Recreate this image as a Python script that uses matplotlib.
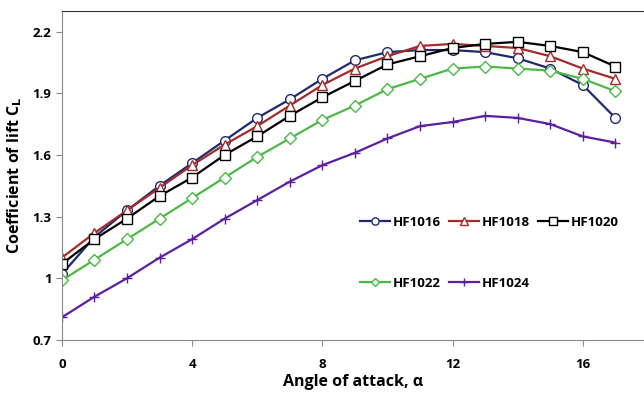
import matplotlib.pyplot as plt

# Angle of attack (deg)
alpha = list(range(18))

# Lift coefficient per airfoil
cl_hf1016 = [1.02, 1.20, 1.33, 1.45, 1.56, 1.67, 1.78, 1.87, 1.97, 2.06,
             2.10, 2.11, 2.11, 2.10, 2.07, 2.02, 1.94, 1.78]
cl_hf1018 = [1.10, 1.22, 1.33, 1.44, 1.55, 1.65, 1.74, 1.84, 1.94, 2.02,
             2.08, 2.13, 2.14, 2.13, 2.12, 2.08, 2.02, 1.97]
cl_hf1020 = [1.07, 1.19, 1.29, 1.40, 1.49, 1.60, 1.69, 1.79, 1.88, 1.96,
             2.04, 2.08, 2.12, 2.14, 2.15, 2.13, 2.10, 2.03]
cl_hf1022 = [0.99, 1.09, 1.19, 1.29, 1.39, 1.49, 1.59, 1.68, 1.77, 1.84,
             1.92, 1.97, 2.02, 2.03, 2.02, 2.01, 1.97, 1.91]
cl_hf1024 = [0.81, 0.91, 1.00, 1.10, 1.19, 1.29, 1.38, 1.47, 1.55, 1.61,
             1.68, 1.74, 1.76, 1.79, 1.78, 1.75, 1.69, 1.66]

series = [
    ("HF1016", cl_hf1016, "#1f2a6e", "o"),
    ("HF1018", cl_hf1018, "#a52a2a", "^"),
    ("HF1020", cl_hf1020, "#000000", "s"),
    ("HF1022", cl_hf1022, "#4cb848", "D"),
    ("HF1024", cl_hf1024, "#5b1fa0", "+"),
]

plt.rcParams['font.family'] = ['Open Sans', 'DejaVu Sans']

fig = plt.figure(figsize=(6.44, 3.93), dpi=100)
ax = fig.add_axes([0.096, 0.135, 0.904, 0.837])

handles = {}
for name, vals, color, marker in series:
    msize = 7 if marker != "D" else 6
    line, = ax.plot(alpha, vals, color=color, marker=marker, markersize=msize,
                    markerfacecolor="white" if marker != "+" else color,
                    markeredgecolor=color, markeredgewidth=1.0,
                    linewidth=1.6, label=name)
    handles[name] = line

# legend: two rows, filled column-wise
order = ["HF1016", "HF1022", "HF1018", "HF1024", "HF1020"]
ax.legend([handles[n] for n in order], order, ncol=3, frameon=False,
          loc="upper left", bbox_to_anchor=(0.512, 0.377), labelspacing=3.65,
          borderpad=0, borderaxespad=0, markerscale=0.75,
          handlelength=2.3, handletextpad=0.2, columnspacing=0.6,
          prop={'weight': 'bold', 'size': 9.5})

ax.set_xlim(0, 17.88)
ax.set_ylim(0.7, 2.3)
ax.set_xticks([0, 4, 8, 12, 16])
ax.set_yticks([0.7, 1.0, 1.3, 1.6, 1.9, 2.2])
ax.set_yticklabels(["0.7", "1", "1.3", "1.6", "1.9", "2.2"])

for lbl in ax.get_xticklabels() + ax.get_yticklabels():
    lbl.set_fontweight("bold")
    lbl.set_fontsize(9.5)
ax.tick_params(direction="out", length=4, color="#888888")
ax.tick_params(axis="x", pad=9)

ax.spines["left"].set_color("#888888")
ax.spines["bottom"].set_color("#888888")
ax.spines["top"].set_color("#333333")
ax.spines["right"].set_visible(False)

ax.set_xlabel("Angle of attack, α", fontsize=11.5, fontweight="bold", labelpad=2)
ax.set_ylabel("Coefficient of lift C$_\\mathbf{L}$", fontsize=11.5, fontweight="bold", labelpad=6)

fig.savefig("out.png", dpi=100)
